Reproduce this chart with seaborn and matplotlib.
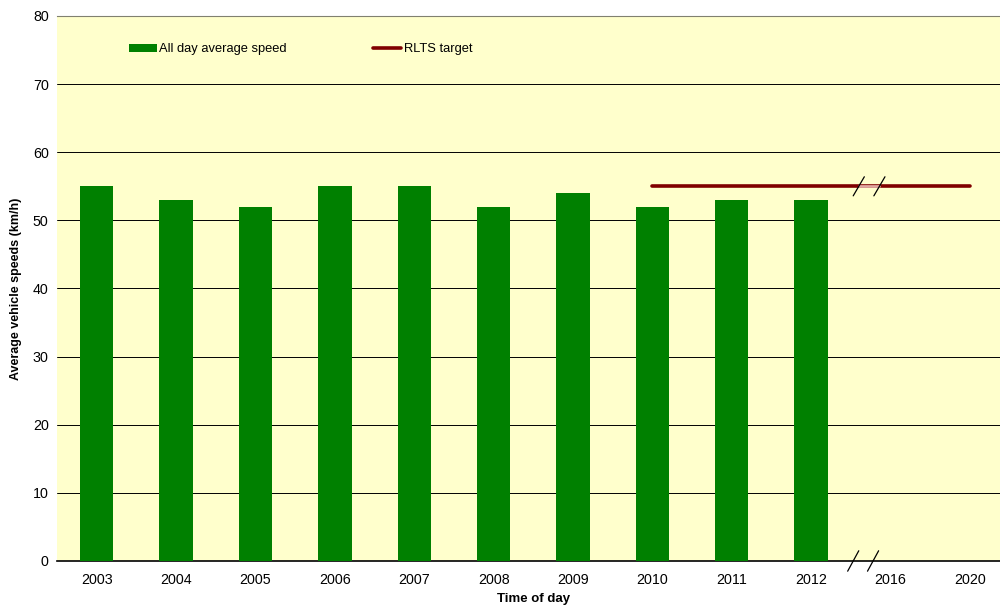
import pandas as pd
import numpy as np
import seaborn as sns
import matplotlib.pyplot as plt

# data
years = ['2003', '2004', '2005', '2006', '2007', '2008', '2009', '2010', '2011', '2012', '2016', '2020']
speeds = [55, 53, 52, 55, 55, 52, 54, 52, 53, 53, np.nan, np.nan]
target_years = ['2010', '2020']
target_values = [55, 55]

df = pd.DataFrame({'year': years, 'speed': speeds})

sns.set_theme(style='white')
plt.rcParams['font.family'] = ['Liberation Sans', 'DejaVu Sans']
plt.rcParams['text.color'] = 'black'
plt.rcParams['axes.labelcolor'] = 'black'
plt.rcParams['xtick.color'] = 'black'
plt.rcParams['ytick.color'] = 'black'

fig = plt.figure(figsize=(10, 6.06), dpi=100)
ax = fig.add_axes([0.057, 0.0743, 0.9526, 0.8993])
ax.set_facecolor('#FFFFCC')

sns.barplot(data=df, x='year', y='speed', order=years, color='#008000',
            saturation=1, width=0.42, linewidth=0, ax=ax,
            label='All day average speed', zorder=3)

# target line on the categorical positions
tx = [years.index(y) for y in target_years]
ax.plot(tx, target_values, color='#800000', lw=2.6, label='RLTS target', zorder=4)
# lighter piece of the line between the break marks
ax.plot([9.6, 9.86], [55, 55], color='#E0A8A0', lw=2.0, zorder=4.5)

# axis break marks
for xc in [9.53, 9.78]:
    ax.plot([xc - 0.07, xc + 0.07], [-1.5, 1.5], color='black', lw=0.9, clip_on=False, zorder=5)
for xc in [9.6, 9.86]:
    ax.plot([xc - 0.07, xc + 0.07], [55 - 1.4, 55 + 1.4], color='black', lw=0.9, zorder=5)

ax.set_ylim(0, 80)
ax.set_xlim(-0.5, 11.5)
ax.set_yticks(range(0, 81, 10))
ax.yaxis.grid(True, color='black', lw=0.7)
ax.set_axisbelow(True)
ax.tick_params(axis='both', labelsize=10.3, length=0, pad=6)
ax.tick_params(axis='x', pad=9)

for s in ['left', 'right']:
    ax.spines[s].set_visible(False)
ax.spines['top'].set_color('#808070')
ax.spines['top'].set_linewidth(0.8)
ax.spines['bottom'].set_color('black')
ax.spines['bottom'].set_linewidth(1.2)

ax.set_xlabel('Time of day', fontsize=9.5, fontweight='bold', labelpad=4)
ax.set_ylabel('Average vehicle speeds (km/h)', fontsize=9, fontweight='bold', labelpad=8)

handles, labels = ax.get_legend_handles_labels()
order = [labels.index('All day average speed'), labels.index('RLTS target')]
ax.legend([handles[i] for i in order], [labels[i] for i in order],
          loc='upper left', bbox_to_anchor=(0.063, 0.971), ncol=2, frameon=False,
          fontsize=9.3, columnspacing=6.7, handlelength=2.17, handleheight=0.6,
          handletextpad=0.2)

fig.savefig('out.png', dpi=100)
